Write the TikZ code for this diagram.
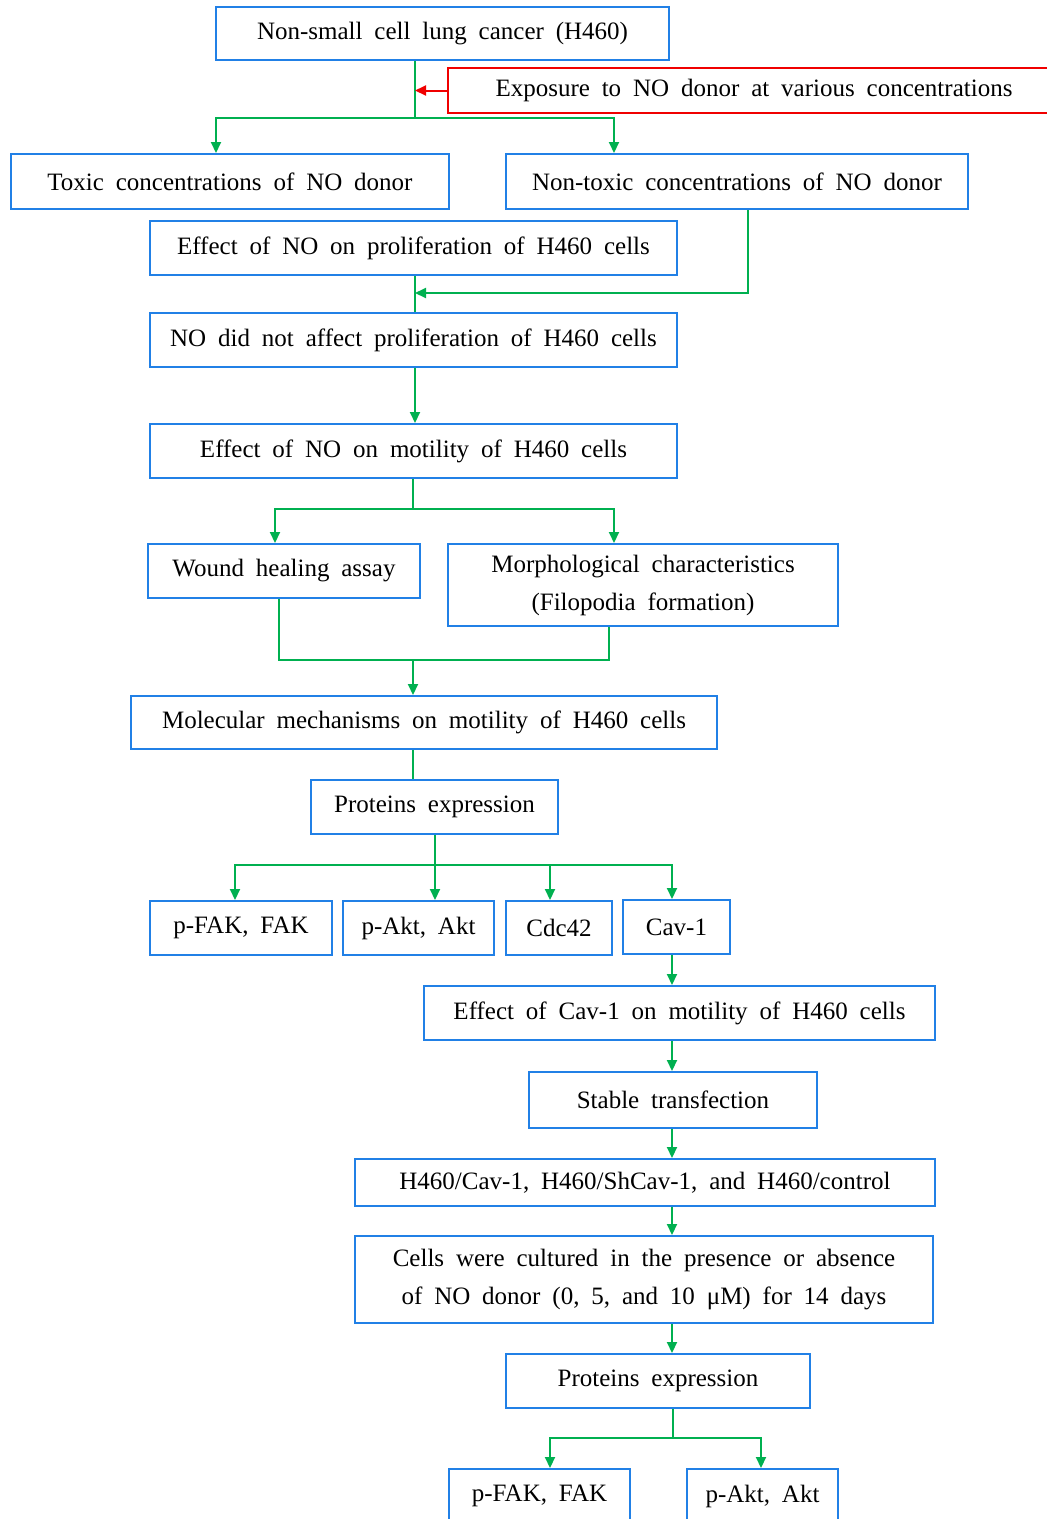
\documentclass[tikz,border=0pt]{standalone}
\usepackage{fontspec}
\setmainfont{Liberation Serif}[WordSpace=1.9]
\usetikzlibrary{arrows.meta}
\definecolor{boxblue}{RGB}{33,128,230}
\definecolor{lgreen}{RGB}{0,176,80}
\definecolor{lred}{RGB}{240,0,0}
\tikzset{
  box/.style={draw=boxblue, line width=2pt, inner sep=0pt, align=center, minimum height=54},
  gline/.style={draw=lgreen, line width=2pt},
  garrow/.style={gline, -{Triangle[length=11pt,width=10pt]}},
  rarrow/.style={draw=lred, line width=2pt, -{Triangle[length=11pt,width=10pt]}}
}
\begin{document}
\begin{tikzpicture}[x=1pt, y=-1pt, font=\fontsize{25}{38}\selectfont]
\useasboundingbox (0,0) rectangle (1047,1519);

\node[box, minimum width=453, minimum height=53] (top) at (442.5,33.5) {Non-small cell lung cancer (H460)};
\node[box, draw=lred, minimum width=612, minimum height=45] (expo) at (754,90.5) {Exposure to NO donor at various concentrations};
\node[box, minimum width=438, minimum height=55] (tox) at (230,181.5) {Toxic concentrations of NO donor};
\node[box, minimum width=462, minimum height=55] (ntox) at (737,181.5) {Non-toxic concentrations of NO donor};
\node[box, minimum width=527] (prolif) at (413.5,248) {Effect of NO on proliferation of H460 cells};
\node[box, minimum width=527] (noeff) at (413.5,340) {NO did not affect proliferation of H460 cells};
\node[box, minimum width=527] (motil) at (413.5,451) {Effect of NO on motility of H460 cells};
\node[box, minimum width=272] (wound) at (284,571) {Wound healing assay};
\node[box, minimum width=390, minimum height=82] (morph) at (643,585) {Morphological characteristics\\(Filopodia formation)};
\node[box, minimum width=586, minimum height=53] (molec) at (424,722.5) {Molecular mechanisms on motility of H460 cells};
\node[box, minimum width=247] (prot1) at (434.5,807) {Proteins expression};
\node[box, minimum width=182] (fak1) at (241,928) {p-FAK, FAK};
\node[box, minimum width=151] (akt1) at (418.5,928) {p-Akt, Akt};
\node[box, minimum width=106] (cdc) at (559,928) {Cdc42};
\node[box, minimum width=107] (cav) at (676.5,927) {Cav-1};
\node[box, minimum width=511] (cavmot) at (679.5,1013) {Effect of Cav-1 on motility of H460 cells};
\node[box, minimum width=288, minimum height=56] (stable) at (673,1100) {Stable transfection};
\node[box, minimum width=580, minimum height=47] (lines) at (645,1182.5) {H460/Cav-1, H460/ShCav-1, and H460/control};
\node[box, minimum width=578, minimum height=87] (cult) at (644,1279.5) {Cells were cultured in the presence or absence\\of NO donor (0, 5, and 10 μM) for 14 days};
\node[box, minimum width=304] (prot2) at (658,1381) {Proteins expression};
\node[box, minimum width=181] (fak2) at (539.5,1496) {p-FAK, FAK};
\node[box, minimum width=151] (akt2) at (762.5,1496) {p-Akt, Akt};

% junctions
\coordinate (j1) at (415,118);
\coordinate (j2) at (415,293);
\coordinate (j3) at (413,509);
\coordinate (j4) at (413,660);
\coordinate (j5) at (435,865);
\coordinate (j6) at (672,970);
\coordinate (j7) at (673,1438);

\draw[gline] (top.south -| j1) -- (j1);
\draw[rarrow] (expo.west) -- (expo.west -| j1); % exposure
\draw[garrow] (j1) -| ([xshift=-14]tox.north);
\draw[garrow] (j1) -| ([xshift=-123]ntox.north);

\draw[garrow] ([xshift=11]ntox.south) |- (j2);
\draw[gline] (prolif.south -| j2) -- (noeff.north -| j2);
\draw[garrow] (noeff.south -| j2) -- (motil.north -| j2);

\draw[gline] (motil.south -| j3) -- (j3);
\draw[garrow] (j3) -| ([xshift=-9]wound.north);
\draw[garrow] (j3) -| ([xshift=-29]morph.north);

\draw[gline] ([xshift=-5]wound.south) |- (j4) -| ([xshift=-34]morph.south);
\draw[garrow] (j4) -- (molec.north -| j4);
\draw[gline] (molec.south -| j4) -- (prot1.north -| j4);

\draw[gline] (prot1.south -| j5) -- (j5);
\draw[garrow] (j5) -| ([xshift=-6]fak1.north);
\draw[garrow] (j5) -- (akt1.north -| j5);
\draw[garrow] (j5) -| ([xshift=-9]cdc.north);
\draw[garrow] (j5) -| ([xshift=-4.5]cav.north);

\draw[garrow] (cav.south -| j6) -- (cavmot.north -| j6);
\draw[garrow] (cavmot.south -| j6) -- (stable.north -| j6);
\draw[garrow] (stable.south -| j6) -- (lines.north -| j6);
\draw[garrow] (lines.south -| j6) -- (cult.north -| j6);
\draw[garrow] (cult.south -| j6) -- (prot2.north -| j6);

\draw[gline] (prot2.south -| j7) -- (j7);
\draw[garrow] (j7) -| ([xshift=10.5]fak2.north);
\draw[garrow] (j7) -| ([xshift=-1.5]akt2.north);
\end{tikzpicture}
\end{document}
